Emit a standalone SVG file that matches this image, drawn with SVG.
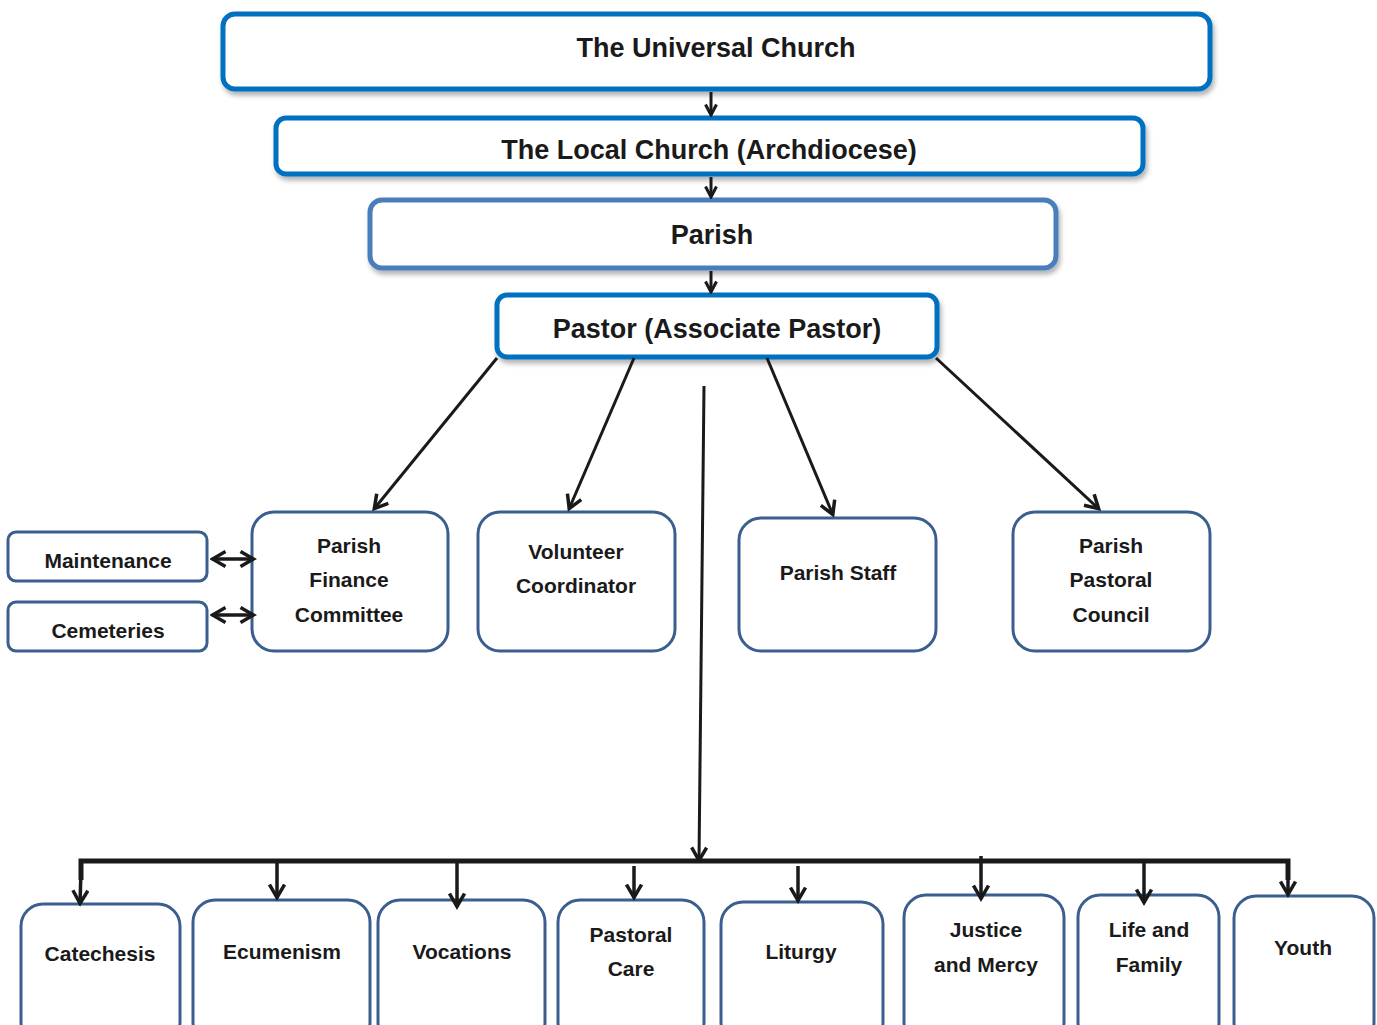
<svg xmlns="http://www.w3.org/2000/svg" width="1377" height="1025" viewBox="0 0 1377 1025">
<style>
text{font-family:"Liberation Sans",Arial,sans-serif;font-weight:bold;fill:#1a1a1a;text-anchor:middle;dominant-baseline:central}
.t1{font-size:27px}
.t2{font-size:21px}
.top{fill:#fff;stroke:#0070C0;stroke-width:5}
.par{fill:#fff;stroke:#4A7EBB;stroke-width:5}
.box{fill:#fff;stroke:#3A5F8E;stroke-width:3}
.c{fill:none;stroke:#1a1a1a;stroke-width:3}
.d{fill:none;stroke:#1a1a1a;stroke-width:3.5}
.bar{fill:none;stroke:#1a1a1a;stroke-width:5}
</style>
<defs>
<marker id="ah" viewBox="0 0 14 14" refX="12" refY="7" markerWidth="14" markerHeight="14" markerUnits="userSpaceOnUse" orient="auto-start-reverse">
<path d="M1.5,1.5 L12,7 L1.5,12.5" fill="none" stroke="#1a1a1a" stroke-width="3"/>
</marker>
<marker id="ahb" viewBox="0 0 18 18" refX="15.5" refY="9" markerWidth="18" markerHeight="18" markerUnits="userSpaceOnUse" orient="auto-start-reverse">
<path d="M2,1.5 L15,9 L2,16.5" fill="none" stroke="#1a1a1a" stroke-width="3.5"/>
</marker>
<filter id="sh" x="-5%" y="-20%" width="110%" height="150%">
<feDropShadow dx="2" dy="4" stdDeviation="2.5" flood-color="#000" flood-opacity="0.3"/>
</filter>
</defs>

<g id="universal"><rect class="top" x="223" y="14" width="987" height="75" rx="12" filter="url(#sh)"/><text class="t1" x="716" y="48">The Universal Church</text></g>
<g id="local"><rect class="top" x="276" y="118" width="867" height="56" rx="10" filter="url(#sh)"/><text class="t1" x="709" y="150">The Local Church (Archdiocese)</text></g>
<g id="parish"><rect class="par" x="370" y="200" width="686" height="68" rx="12" filter="url(#sh)"/><text class="t1" x="712" y="235">Parish</text></g>
<g id="pastor"><rect class="top" x="497" y="295" width="440" height="62" rx="10" filter="url(#sh)"/><text class="t1" x="717" y="329">Pastor (Associate Pastor)</text></g>

<g id="pfc"><rect class="box" x="252" y="512" width="196" height="139" rx="22"/><text class="t2" x="349" y="545">Parish</text><text class="t2" x="349" y="579">Finance</text><text class="t2" x="349" y="614">Committee</text></g>
<g id="volunteer"><rect class="box" x="478" y="512" width="197" height="139" rx="22"/><text class="t2" x="576" y="551">Volunteer</text><text class="t2" x="576" y="585">Coordinator</text></g>
<g id="staff"><rect class="box" x="739" y="518" width="197" height="133" rx="22"/><text class="t2" x="838" y="572">Parish Staff</text></g>
<g id="ppc"><rect class="box" x="1013" y="512" width="197" height="139" rx="22"/><text class="t2" x="1111" y="545">Parish</text><text class="t2" x="1111" y="579">Pastoral</text><text class="t2" x="1111" y="614">Council</text></g>
<g id="maintenance"><rect class="box" x="8" y="532" width="199" height="49" rx="8"/><text class="t2" x="108" y="560">Maintenance</text></g>
<g id="cemeteries"><rect class="box" x="8" y="602" width="199" height="49" rx="8"/><text class="t2" x="108" y="630">Cemeteries</text></g>

<g id="catechesis"><rect class="box" x="21" y="904" width="159" height="140" rx="22"/><text class="t2" x="100" y="953">Catechesis</text></g>
<g id="ecumenism"><rect class="box" x="193" y="900" width="177" height="144" rx="22"/><text class="t2" x="282" y="951">Ecumenism</text></g>
<g id="vocations"><rect class="box" x="378" y="900" width="167" height="144" rx="22"/><text class="t2" x="462" y="951">Vocations</text></g>
<g id="pastoralcare"><rect class="box" x="558" y="900" width="146" height="144" rx="22"/><text class="t2" x="631" y="934">Pastoral</text><text class="t2" x="631" y="968">Care</text></g>
<g id="liturgy"><rect class="box" x="721" y="902" width="162" height="142" rx="22"/><text class="t2" x="801" y="951">Liturgy</text></g>
<g id="justice"><rect class="box" x="904" y="895" width="160" height="149" rx="22"/><text class="t2" x="986" y="929">Justice</text><text class="t2" x="986" y="964">and Mercy</text></g>
<g id="lifefamily"><rect class="box" x="1078" y="895" width="141" height="149" rx="22"/><text class="t2" x="1149" y="929">Life and</text><text class="t2" x="1149" y="964">Family</text></g>
<g id="youth"><rect class="box" x="1234" y="896" width="140" height="148" rx="22"/><text class="t2" x="1303" y="947">Youth</text></g>

<g id="connectors">
<line class="c" x1="711" y1="92" x2="711" y2="115" marker-end="url(#ah)"/>
<line class="c" x1="711" y1="177" x2="711" y2="197" marker-end="url(#ah)"/>
<line class="c" x1="711" y1="271" x2="711" y2="292" marker-end="url(#ah)"/>
<line class="c" x1="497" y1="358" x2="374" y2="509" marker-end="url(#ahb)"/>
<line class="c" x1="634" y1="358" x2="569" y2="509" marker-end="url(#ahb)"/>
<line class="c" x1="767" y1="358" x2="833" y2="515" marker-end="url(#ahb)"/>
<line class="c" x1="936" y1="358" x2="1099" y2="509" marker-end="url(#ahb)"/>
<line class="c" x1="704" y1="386" x2="699" y2="861" marker-end="url(#ahb)"/>
<line class="d" x1="212" y1="559" x2="254" y2="559" marker-start="url(#ahb)" marker-end="url(#ahb)"/>
<line class="d" x1="212" y1="615" x2="254" y2="615" marker-start="url(#ahb)" marker-end="url(#ahb)"/>
<polyline class="bar" points="81,880 81,861 1288,861 1288,880"/>
<line class="d" x1="81" y1="870" x2="80" y2="904" marker-end="url(#ahb)"/>
<line class="d" x1="277" y1="862" x2="277" y2="898" marker-end="url(#ahb)"/>
<line class="d" x1="457" y1="862" x2="457" y2="907" marker-end="url(#ahb)"/>
<line class="d" x1="634" y1="866" x2="634" y2="898" marker-end="url(#ahb)"/>
<line class="d" x1="798" y1="866" x2="798" y2="901" marker-end="url(#ahb)"/>
<line class="d" x1="981" y1="856" x2="981" y2="899" marker-end="url(#ahb)"/>
<line class="d" x1="1144" y1="862" x2="1144" y2="903" marker-end="url(#ahb)"/>
<line class="d" x1="1288" y1="870" x2="1288" y2="895" marker-end="url(#ahb)"/>
</g>
</svg>
